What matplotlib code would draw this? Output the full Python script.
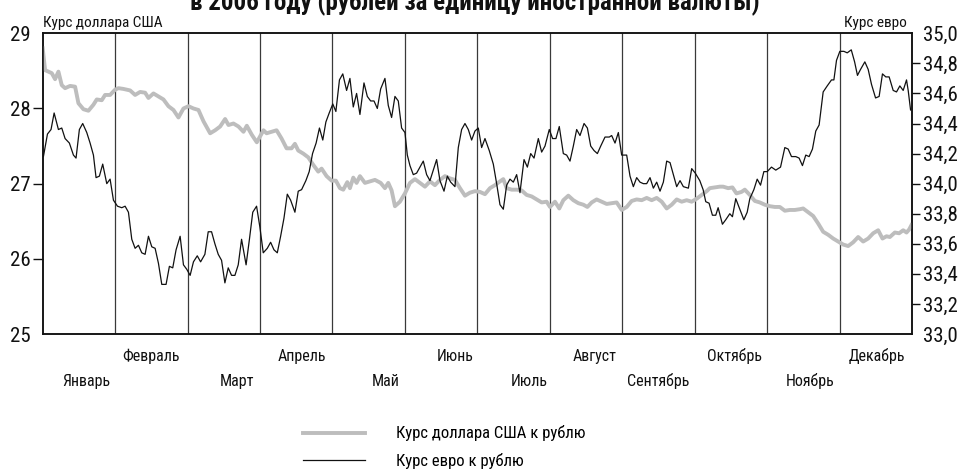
import numpy as np
import matplotlib
matplotlib.use('Agg')
import matplotlib.pyplot as plt
from matplotlib import font_manager as fm
from matplotlib.font_manager import FontProperties
from matplotlib.ticker import FuncFormatter

# ---- data (x = position in the year in days, rate in rubles) ----
usd_day = [0.0, 1.0, 2.4, 3.8, 5.2, 6.6, 8.0, 9.4, 11.5, 13.6, 15.0, 17.1, 19.2, 21.3, 22.7, 24.8,
           26.2, 28.3, 30.4, 31.8, 33.9, 36.7, 38.8, 40.9, 43.0, 44.4, 46.5, 48.6, 50.7, 52.8, 54.9,
           57.0, 59.1, 61.2, 63.3, 65.4, 67.5, 70.3, 72.4, 74.5, 76.6, 78.0, 80.1, 82.2, 84.3, 85.7,
           87.8, 89.9, 91.3, 92.7, 94.0, 96.1, 98.2, 100.3, 102.4, 104.5, 105.9, 107.3, 109.4, 111.5,
           113.6, 115.7, 117.1, 119.2, 121.3, 123.1, 124.8, 126.2, 127.9, 129.0, 130.4, 131.8, 133.2,
           135.3, 137.4, 139.5, 141.9, 143.7, 145.1, 146.5, 147.9, 150.0, 152.1, 154.2, 156.3, 158.4,
           160.5, 162.6, 164.7, 166.8, 168.9, 171.0, 173.1, 175.2, 177.3, 179.4, 181.5, 183.6, 185.7,
           187.8, 189.9, 192.0, 193.4, 194.8, 196.9, 199.0, 201.1, 203.2, 205.3, 207.4, 209.5, 211.6,
           213.0, 215.1, 216.9, 218.6, 220.7, 222.8, 224.9, 227.0, 228.7, 230.5, 232.6, 234.7, 236.8,
           238.9, 241.0, 243.1, 245.2, 247.3, 249.4, 251.5, 253.6, 255.7, 257.8, 259.9, 262.0, 264.1,
           266.2, 268.3, 270.4, 272.5, 274.6, 276.7, 278.8, 280.1, 282.2, 284.3, 285.7, 287.8, 289.6,
           291.3, 293.4, 294.8, 296.9, 299.0, 301.1, 303.2, 305.3, 307.4, 309.5, 311.6, 313.7, 315.8,
           317.9, 319.3, 321.4, 323.5, 325.6, 327.7, 329.8, 331.9, 334.0, 336.1, 338.2, 340.3, 342.4,
           344.5, 346.6, 348.7, 350.8, 352.6, 354.3, 355.7, 357.8, 359.6, 361.3, 362.7, 363.8, 364.8]
usd_rate = [28.80, 28.51, 28.49, 28.47, 28.39, 28.49, 28.31, 28.27, 28.30, 28.29, 28.07, 27.99, 27.97, 28.05, 28.12, 28.11,
            28.18, 28.18, 28.25, 28.27, 28.26, 28.24, 28.18, 28.22, 28.21, 28.14, 28.20, 28.16, 28.12, 28.03, 27.98,
            27.88, 28.00, 28.03, 28.00, 27.98, 27.83, 27.67, 27.71, 27.76, 27.86, 27.78, 27.80, 27.76, 27.69, 27.77,
            27.65, 27.55, 27.63, 27.71, 27.67, 27.69, 27.71, 27.60, 27.47, 27.47, 27.53, 27.44, 27.40, 27.35,
            27.25, 27.16, 27.20, 27.10, 27.04, 27.04, 26.94, 26.92, 27.02, 26.94, 27.08, 27.01, 27.10,
            27.01, 27.03, 27.05, 27.01, 26.94, 27.01, 26.91, 26.70, 26.76, 26.87, 27.01, 27.06, 27.01,
            26.96, 27.03, 26.98, 27.05, 27.10, 27.07, 27.05, 26.94, 26.84, 26.88, 26.90, 26.89, 26.86,
            26.94, 26.98, 27.03, 27.06, 26.94, 26.92, 26.92, 26.91, 26.85, 26.83, 26.79, 26.75, 26.76,
            26.69, 26.76, 26.67, 26.78, 26.84, 26.78, 26.74, 26.72, 26.69, 26.75, 26.79, 26.76, 26.73,
            26.74, 26.75, 26.65, 26.69, 26.77, 26.79, 26.78, 26.81, 26.78, 26.81, 26.76, 26.67, 26.72,
            26.79, 26.76, 26.78, 26.76, 26.80, 26.85, 26.90, 26.94, 26.95, 26.96, 26.96, 26.94, 26.95,
            26.87, 26.89, 26.92, 26.85, 26.77, 26.75, 26.72, 26.70, 26.69, 26.69, 26.64, 26.65, 26.65,
            26.66, 26.67, 26.62, 26.57, 26.47, 26.36, 26.32, 26.27, 26.23, 26.19, 26.17, 26.22, 26.29,
            26.23, 26.27, 26.34, 26.38, 26.27, 26.30, 26.29, 26.35, 26.34, 26.38, 26.35, 26.39, 26.45]

eur_day = [0.3, 2.0, 3.5, 4.8, 6.6, 8.0, 9.4, 11.2, 12.9, 14.0, 15.4, 16.8, 18.5, 19.9, 21.3, 22.4,
           23.8, 25.2, 26.9, 28.3, 29.7, 31.4, 33.2, 34.6, 36.0, 37.4, 38.8, 40.2, 41.6, 43.0, 44.4,
           45.8, 47.2, 48.6, 50.0, 51.8, 53.2, 54.6, 56.0, 57.7, 59.1, 60.5, 61.9, 63.3, 64.9, 66.3,
           68.1, 69.5, 70.9, 72.3, 73.7, 75.1, 76.5, 77.9, 79.3, 80.7, 82.1, 83.5, 85.4, 86.8, 88.2,
           89.8, 91.2, 92.6, 94.3, 95.7, 97.1, 98.5, 99.9, 101.3, 102.7, 104.1, 105.9, 107.3, 108.7,
           110.5, 111.9, 113.3, 114.8, 116.2, 117.6, 118.9, 120.3, 121.8, 123.1, 124.6, 126.0, 127.6,
           129.0, 130.4, 131.8, 133.2, 134.9, 136.3, 137.7, 139.1, 140.5, 141.9, 143.7, 145.1, 146.5,
           147.9, 149.3, 150.7, 152.1, 153.1, 154.2, 155.6, 157.0, 158.4, 159.8, 161.2, 162.6, 164.0,
           165.4, 166.8, 168.5, 169.9, 171.3, 173.1, 174.5, 175.9, 177.3, 178.7, 180.1, 181.5, 182.9,
           184.3, 185.7, 187.5, 189.2, 190.6, 192.0, 193.4, 194.8, 196.2, 197.6, 199.0, 200.4, 202.1,
           203.5, 204.9, 206.3, 208.1, 209.5, 210.9, 212.7, 214.1, 215.5, 216.9, 218.6, 220.0, 221.4,
           222.8, 224.2, 225.6, 227.3, 228.7, 230.1, 231.5, 232.9, 234.3, 236.1, 237.9, 238.9, 240.3,
           241.7, 243.1, 245.2, 246.6, 248.0, 249.4, 250.8, 252.2, 253.6, 255.0, 256.4, 257.8, 259.2,
           260.6, 262.0, 263.4, 264.8, 266.2, 267.6, 269.0, 271.1, 272.5, 274.0, 275.9, 277.3, 278.4,
           279.8, 281.2, 282.6, 283.6, 285.4, 286.8, 288.5, 289.6, 291.0, 292.7, 294.4, 295.8, 296.9,
           298.6, 300.0, 301.4, 302.8, 304.2, 306.0, 307.8, 309.8, 311.6, 313.0, 314.4, 316.2, 317.6,
           319.0, 320.4, 321.8, 323.2, 324.6, 326.0, 327.7, 329.4, 331.2, 332.2, 333.3, 334.7, 336.4,
           337.8, 339.5, 340.9, 342.1, 343.4, 345.2, 346.6, 348.0, 349.7, 351.2, 352.6, 354.0, 355.4,
           357.1, 358.5, 359.9, 361.3, 362.7, 363.4, 364.4]
eur_rate = [34.18, 34.33, 34.36, 34.47, 34.36, 34.37, 34.30, 34.27, 34.19, 34.17, 34.36, 34.40, 34.34, 34.27, 34.19, 34.04,
            34.05, 34.13, 34.00, 34.03, 33.89, 33.85, 33.84, 33.85, 33.81, 33.63, 33.57, 33.59, 33.54, 33.53, 33.65,
            33.58, 33.57, 33.47, 33.33, 33.33, 33.45, 33.44, 33.56, 33.65, 33.46, 33.43, 33.39, 33.48, 33.52, 33.48,
            33.53, 33.68, 33.68, 33.60, 33.53, 33.49, 33.34, 33.44, 33.39, 33.39, 33.46, 33.63, 33.46, 33.63, 33.81,
            33.85, 33.71, 33.54, 33.57, 33.61, 33.56, 33.54, 33.65, 33.77, 33.93, 33.89, 33.81, 33.95, 33.96,
            34.02, 34.08, 34.20, 34.27, 34.37, 34.29, 34.41, 34.47, 34.53, 34.48, 34.69, 34.73, 34.62,
            34.70, 34.51, 34.60, 34.46, 34.67, 34.58, 34.55, 34.55, 34.50, 34.63, 34.70, 34.52, 34.44,
            34.58, 34.55, 34.37, 34.34, 34.19, 34.12, 34.06, 34.07, 34.11, 34.15, 34.06, 34.02, 34.09,
            34.16, 34.02, 33.95, 34.05, 34.01, 33.98, 34.24, 34.36, 34.40, 34.36, 34.29, 34.35, 34.37,
            34.24, 34.30, 34.22, 34.13, 34.00, 33.86, 33.83, 33.99, 34.03, 34.01, 34.06, 33.94, 34.16,
            34.11, 34.20, 34.17, 34.30, 34.21, 34.25, 34.36, 34.30, 34.30, 34.38, 34.20, 34.19, 34.15,
            34.25, 34.36, 34.32, 34.40, 34.37, 34.25, 34.22, 34.20, 34.25, 34.31, 34.31, 34.32, 34.27,
            34.34, 34.19, 34.19, 34.05, 33.98, 34.04, 34.01, 34.00, 34.00, 34.04, 33.97, 34.01, 33.95,
            34.01, 34.15, 34.14, 34.06, 33.98, 34.02, 33.98, 33.97, 34.10, 34.07, 34.02, 33.96, 33.88,
            33.87, 33.79, 33.79, 33.84, 33.73, 33.76, 33.80, 33.78, 33.90, 33.83, 33.76, 33.81, 33.90,
            33.96, 34.03, 33.99, 34.08, 34.08, 34.11, 34.09, 34.11, 34.24, 34.23, 34.18, 34.18, 34.17,
            34.12, 34.19, 34.18, 34.23, 34.35, 34.39, 34.61, 34.65, 34.69, 34.69, 34.82, 34.88, 34.88,
            34.87, 34.89, 34.81, 34.72, 34.76, 34.81, 34.76, 34.66, 34.57, 34.58, 34.73, 34.71, 34.71,
            34.62, 34.61, 34.65, 34.62, 34.69, 34.62, 34.49]

months = ['Январь', 'Февраль', 'Март', 'Апрель', 'Май', 'Июнь',
          'Июль', 'Август', 'Сентябрь', 'Октябрь', 'Ноябрь', 'Декабрь']
usd_ticks = [25, 26, 27, 28, 29]
eur_ticks = [33.0, 33.2, 33.4, 33.6, 33.8, 34.0, 34.2, 34.4, 34.6, 34.8, 35.0]

title = 'в 2006 году (рублей за единицу иностранной валюты)'
usd_name = 'Курс доллара США к рублю'
eur_name = 'Курс евро к рублю'

# layout: month columns are equal width, label centres in day units
month_w = 365 / 12.0
month_label_x = [18.2, 45.5, 81.6, 108.9, 144.1, 173.1, 204.2, 231.9, 258.3, 290.6, 322.1, 350.3]

# ---- font: a narrow sans if there is one ----
prefer = ['Liberation Sans Narrow', 'Roboto Condensed', 'Open Sans Condensed',
          'Noto Sans Condensed', 'DejaVu Sans Condensed', 'Lato Condensed']
have = {f.name: f for f in fm.fontManager.ttflist}
fam, stretch = None, 'normal'
for p in prefer:
    if p in have:
        fam, stretch = p, have[p].stretch
        break
if fam is None:
    for f in fm.fontManager.ttflist:
        st = str(f.stretch)
        if st in ('condensed', 'semi-condensed', 'extra-condensed', 'ultra-condensed') \
                and 'Mono' not in f.name and 'Serif' not in f.name and 'CJK' not in f.name:
            fam, stretch = f.name, f.stretch
            break
if fam is None:
    fam = 'Liberation Sans' if 'Liberation Sans' in have else 'DejaVu Sans'
plt.rcParams['font.family'] = [fam, 'DejaVu Sans']
plt.rcParams['font.stretch'] = stretch

W, H = 958, 475
fig = plt.figure(figsize=(W / 100, H / 100), dpi=100)
rend = fig.canvas.get_renderer()


def fit(s, px, cap, weight='normal'):
    # font size that gives the text the width it has in the picture
    w, h, d = rend.get_text_width_height_descent(s, FontProperties(size=10, weight=weight), ismath=False)
    return min(cap, 10.0 * px / w)


fs_tick = fit('35,0', 35, 15)
fs_month = fit('Сентябрь', 63, 11.5)
fs_corner = fit('Курс доллара США', 119, 11)
fs_leg = fit(usd_name, 196, 12)
fs_title = fit(title, 570, 18, 'bold')

ax = fig.add_axes([42.7 / W, 1 - 334 / H, (912 - 42.7) / W, (334 - 33.3) / H])
ax2 = ax.twinx()

l1, = ax.plot(usd_day, usd_rate, color='#bdbdbd', lw=2.8, zorder=3)
l2, = ax2.plot(eur_day, eur_rate, color='#111111', lw=0.9, zorder=4)

for k in range(1, 12):
    ax.axvline(k * month_w, color='#3a3a3a', lw=0.9, zorder=1)

ax.set_xlim(0, 365)
ax.set_ylim(25, 29)
ax2.set_ylim(33, 35)
ax.set_xticks([])

for a in (ax, ax2):
    for s in a.spines.values():
        s.set_linewidth(1.1)
        s.set_color('#111111')

ax.set_yticks(usd_ticks)
ax.tick_params(axis='y', direction='out', length=7, width=1.0, pad=1.5, labelsize=fs_tick, colors='#111111')
ax2.set_yticks(eur_ticks)
ax2.yaxis.set_major_formatter(FuncFormatter(lambda v, p: ('%.1f' % v).replace('.', ',')))
ax2.tick_params(axis='y', direction='out', length=6, width=1.0, pad=2, labelsize=fs_tick, colors='#111111')
# no tick marks at the ends of the scales
for t in (ax.yaxis.get_major_ticks()[0], ax.yaxis.get_major_ticks()[-1]):
    t.tick1line.set_visible(False)
for t in (ax2.yaxis.get_major_ticks()[0], ax2.yaxis.get_major_ticks()[-1]):
    t.tick2line.set_visible(False)

# month names in two staggered rows
for i, (m, xm) in enumerate(zip(months, month_label_x)):
    yb = -0.172 if i % 2 == 0 else -0.089
    ax.text(xm, yb, m, transform=ax.get_xaxis_transform(), ha='center', va='baseline',
            fontsize=fs_month, color='#111111')

fig.text(0.496, 1 - 10 / H, title, ha='center', va='baseline', fontsize=fs_title,
         fontweight='bold', color='#111111')
fig.text(43 / W, 1 - 27 / H, 'Курс доллара США', ha='left', va='baseline', fontsize=fs_corner, color='#111111')
fig.text(907 / W, 1 - 27 / H, 'Курс евро', ha='right', va='baseline', fontsize=fs_corner, color='#111111')

fig.legend([l1, l2], [usd_name, eur_name], loc='center left',
           bbox_to_anchor=(303 / W, 1 - 447 / H), frameon=False, fontsize=fs_leg,
           handlelength=62 / (fs_leg * 100 / 72), handletextpad=31 / (fs_leg * 100 / 72),
           labelspacing=0.68, borderpad=0, borderaxespad=0)

fig.savefig('out.png', dpi=100)
